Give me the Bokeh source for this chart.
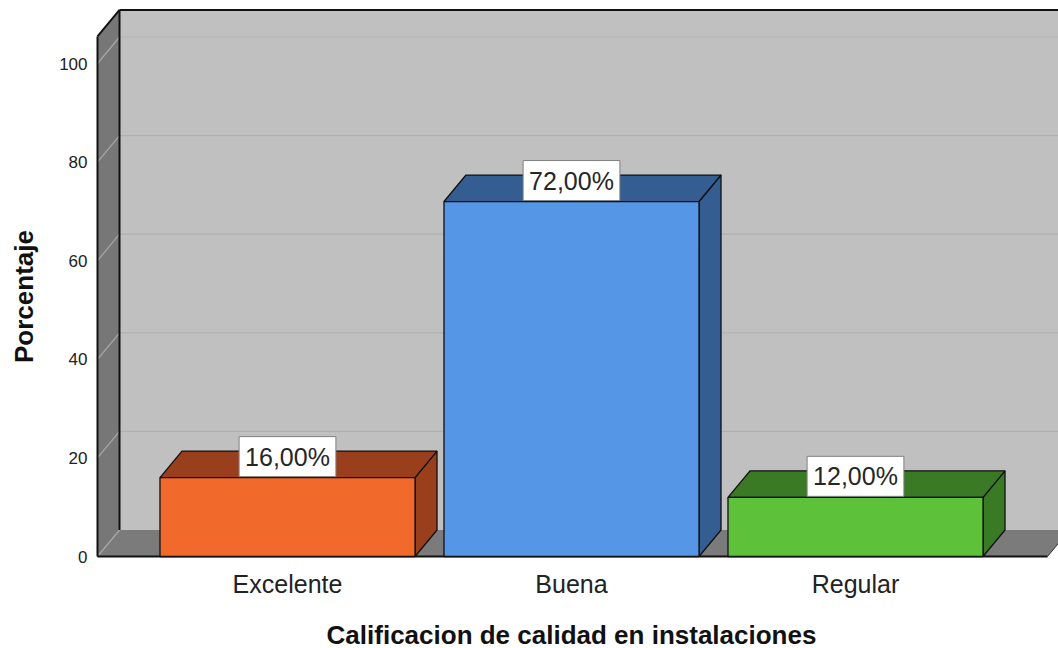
import math
from bokeh.plotting import figure
from bokeh.models import Range1d
from bokeh.core.properties import value
from bokeh.embed import file_html
from bokeh.resources import INLINE

# ---------------- data ----------------
categories = ["Excelente", "Buena", "Regular"]
porcentajes = [16.0, 72.0, 12.0]
etiquetas = ["16,00%", "72,00%", "12,00%"]
y_ticks = [0, 20, 40, 60, 80, 100]
y_tick_labels = ["0", "20", "40", "60", "80", "100"]
x_title = "Calificacion de calidad en instalaciones"
y_title = "Porcentaje"

front_colors = ["#F2692C", "#5596E6", "#5DC13A"]
dark_colors = ["#9A3F1C", "#345D92", "#3A7A24"]

# ---------------- geometry (in data units) ----------------
W, H = 1058, 648
PX_X = 284.0          # pixels per category step
PX_Y = 4.93           # pixels per percent
X0_PX = 287.0         # pixel x of first category
Y0_PX = 556.0         # pixel y of value 0
DX = 22.0 / PX_X      # depth offset x
DY = 26.5 / PX_Y      # depth offset y
HALF = 0.449          # half bar width
WALL_X = -0.669       # left wall front edge
WALL_TOP = 105.5      # top of walls (front)
FLOOR_R = 2.676       # right end of floor (front)
FAR_R = 3.0

FONT = "Liberation Sans"

def ux(px):
    return (px - X0_PX) / PX_X

def vy(py):
    return (Y0_PX - py) / PX_Y

p = figure(width=W, height=H,
           x_range=Range1d(ux(0), ux(W)), y_range=Range1d(vy(H), vy(0)),
           output_backend="svg", toolbar_location=None,
           x_axis_location=None, y_axis_location=None, min_border=0)
p.grid.visible = False
p.outline_line_color = None
p.background_fill_color = "white"
p.border_fill_color = "white"

# back wall
p.quad(left=[WALL_X + DX], right=[FAR_R], bottom=[DY], top=[WALL_TOP + DY],
       fill_color="#C0C0C0", line_color=None)
# back wall grid lines
gt = y_ticks[1:]
p.segment(x0=[WALL_X + DX] * len(gt), x1=[FAR_R] * len(gt),
          y0=[t + DY for t in gt], y1=[t + DY for t in gt],
          line_color="#B0B0B0", line_width=1.2)

# floor
p.patch([WALL_X, FLOOR_R, FLOOR_R + DX, WALL_X + DX], [0, 0, DY, DY],
        fill_color="#7B7B7B", line_color=None)
p.segment(x0=[FLOOR_R], y0=[0], x1=[FLOOR_R + DX], y1=[DY],
          line_color="#333333", line_width=1)

# left wall
p.patch([WALL_X, WALL_X, WALL_X + DX, WALL_X + DX], [0, WALL_TOP, WALL_TOP + DY, DY],
        fill_color="#777777", line_color=None)
p.segment(x0=[WALL_X] * len(y_ticks), x1=[WALL_X + DX] * len(y_ticks),
          y0=y_ticks, y1=[t + DY for t in y_ticks],
          line_color="#A8A8A8", line_width=1.2)

# black frame edges
ex0 = [WALL_X, WALL_X, WALL_X + DX, WALL_X + DX, WALL_X]
ey0 = [0, WALL_TOP, WALL_TOP + DY, DY, 0]
ex1 = [WALL_X, WALL_X + DX, FAR_R, WALL_X + DX, FLOOR_R]
ey1 = [WALL_TOP, WALL_TOP + DY, WALL_TOP + DY, WALL_TOP + DY, 0]
p.segment(x0=ex0, y0=ey0, x1=ex1, y1=ey1, line_color="#111111", line_width=2)

# bars
xs_c = list(range(len(categories)))
side_xs, side_ys, top_xs, top_ys = [], [], [], []
for c, v in zip(xs_c, porcentajes):
    L, R = c - HALF, c + HALF
    side_xs.append([R, R + DX, R + DX, R])
    side_ys.append([0, DY, v + DY, v])
    top_xs.append([L, R, R + DX, L + DX])
    top_ys.append([v, v, v + DY, v + DY])
p.patches(side_xs, side_ys, fill_color=dark_colors, line_color="#111111", line_width=1.3)
p.patches(top_xs, top_ys, fill_color=dark_colors, line_color="#111111", line_width=1.3)
p.quad(left=[c - HALF for c in xs_c], right=[c + HALF for c in xs_c],
       bottom=[0] * len(xs_c), top=porcentajes,
       fill_color=front_colors, line_color="#111111", line_width=1.3)

# value labels
p.text(x=xs_c, y=porcentajes, text=etiquetas, y_offset=-21,
       text_align="center", text_baseline="middle",
       text_font=value(FONT), text_font_size=value("25px"), text_color="#262626",
       background_fill_color="white", border_line_color="#808080", border_line_width=1,
       padding=6)

# y tick labels
p.text(x=[ux(87)] * len(y_ticks), y=y_ticks, text=y_tick_labels,
       text_align="right", text_baseline="middle",
       text_font=value(FONT), text_font_size=value("17px"), text_color="#222222")

# category labels
p.text(x=xs_c, y=[vy(583)] * len(xs_c), text=categories,
       text_align="center", text_baseline="alphabetic",
       text_font=value(FONT), text_font_size=value("25px"), text_color="#222222")

# axis titles
p.text(x=[1.0], y=[vy(634)], text=[x_title],
       text_align="center", text_baseline="alphabetic",
       text_font=value(FONT), text_font_size=value("26px"), text_font_style="bold",
       text_color="#111111")
p.text(x=[ux(23)], y=[vy(296)], text=[y_title], angle=math.pi / 2,
       text_align="center", text_baseline="alphabetic",
       text_font=value(FONT), text_font_size=value("26px"), text_font_style="bold",
       text_color="#111111")

open("out.html", "w").write(file_html(p, INLINE))
